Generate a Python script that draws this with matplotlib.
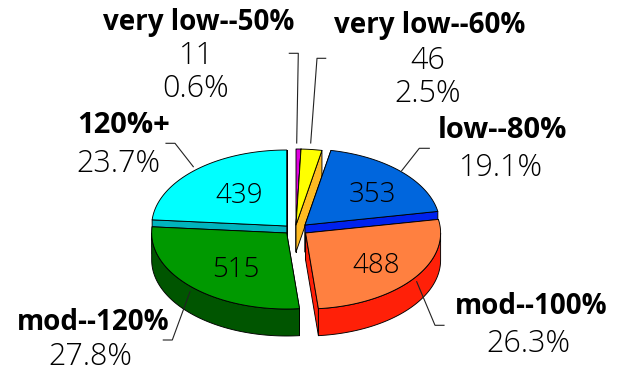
#!/usr/bin/env python3

# 3D-look exploded pie of counts per rating category

import numpy as np
from matplotlib import pyplot as plt
from matplotlib.patches import Polygon

plt.rcParams['font.family'] = ['Open Sans', 'DejaVu Sans']

categories = ['very low--50%', 'very low--60%', 'low--80%', 'mod--100%', 'mod--120%', '120%+']
counts = [11, 46, 353, 488, 515, 439]
percents = [0.6, 2.5, 19.1, 26.3, 27.8, 23.7]

top_colors = ['#e000e0', '#ffff00', '#0066dd', '#ff8040', '#009900', '#00ffff']
side_colors = ['#8a008a', '#ffbb22', '#0022ee', '#ff2008', '#005500', '#00b4be']

# pie geometry, in pixels
cx, cy = 296., 229.
rx, ry = 135., 76.
depth = 27.
offsets = [(0, -4), (0, -4), (9, -4), (9.6, 4), (-9.3, 4), (-9.3, -3)]
draw_order = [0, 1, 2, 5, 4, 3]

fig = plt.figure(figsize=(6.26, 3.74), dpi=100)
ax = fig.add_axes([0, 0, 1, 1])
ax.set_xlim(0, 626)
ax.set_ylim(374, 0)
ax.axis('off')

angles = np.concatenate([[0.], np.cumsum(counts)]) / np.sum(counts) * 2 * np.pi


def arc(i, t0, t1):
    t = np.linspace(t0, t1, 120)
    x = cx + offsets[i][0] + rx * np.sin(t)
    y = cy + offsets[i][1] - ry * np.cos(t)
    return x, y


def face(x, y, color, z):
    ax.add_patch(Polygon(np.column_stack([x, y]), closed=True, facecolor=color,
                         edgecolor='k', linewidth=0.65, joinstyle='round', zorder=z))


for z, i in enumerate(draw_order):
    t0, t1 = angles[i], angles[i + 1]
    x, y = arc(i, t0, t1)
    ax_, ay_ = cx + offsets[i][0], cy + offsets[i][1]
    base = 10 + 5 * z
    # cut faces first
    for ex, ey in [(x[0], y[0]), (x[-1], y[-1])]:
        face([ax_, ex, ex, ax_], [ay_, ey, ey + depth, ay_ + depth], side_colors[i], base)
    # outer wall only on the front half of the ellipse
    w0, w1 = max(t0, np.pi / 2), min(t1, 3 * np.pi / 2)
    if w1 > w0:
        wx, wy = arc(i, w0, w1)
        face(np.r_[wx, wx[::-1]], np.r_[wy, wy[::-1] + depth], side_colors[i], base + 1)
    face(np.r_[ax_, x], np.r_[ay_, y], top_colors[i], base + 2)

# leader lines
leaders = [
    ([289.3, 298.3, 296.7], [53.3, 53.3, 143]),
    ([325.7, 317, 310.7], [58.3, 58.3, 143]),
    ([429.3, 419.3, 401.7], [148.3, 148.3, 170.7]),
    ([444, 435, 416.7], [325.3, 325.3, 281.7]),
    ([163.3, 172.3, 190], [340, 340, 291.7]),
    ([166, 175, 193.3], [143.3, 143.3, 166.7]),
]
for lx, ly in leaders:
    ax.plot(lx, ly, color='#222222', lw=0.8, zorder=60)

# counts on the big slices
count_pos = {2: (372, 195), 3: (376, 266), 4: (236, 270), 5: (239, 196)}
for i, (tx, ty) in count_pos.items():
    ax.text(tx, ty, str(counts[i]), fontsize=20, fontweight='light', ha='center', va='center',
            color='k', zorder=70)

# category labels
name_pos = [(199, 22), (430, 25), (502, 130), (531, 306), (93, 322), (124, 125)]
name_sizes = [20, 20, 21, 20, 20, 21]
for name, (tx, ty), fs in zip(categories, name_pos, name_sizes):
    ax.text(tx, ty, name, fontsize=fs, fontweight='bold', ha='center', va='center', color='k')

num_style = dict(fontsize=22, fontweight='light', ha='center', va='center', color='k')
ax.text(196, 56, str(counts[0]), **num_style)
ax.text(196, 89, f'{percents[0]}%', **num_style)
ax.text(428, 61, str(counts[1]), **num_style)
ax.text(428, 94, f'{percents[1]}%', **num_style)

pct_pos = {2: (501, 168), 3: (528, 344), 4: (90, 357), 5: (118, 164)}
for i, (tx, ty) in pct_pos.items():
    ax.text(tx, ty, f'{percents[i]}%', **num_style)

fig.savefig('out.png', dpi=100)
